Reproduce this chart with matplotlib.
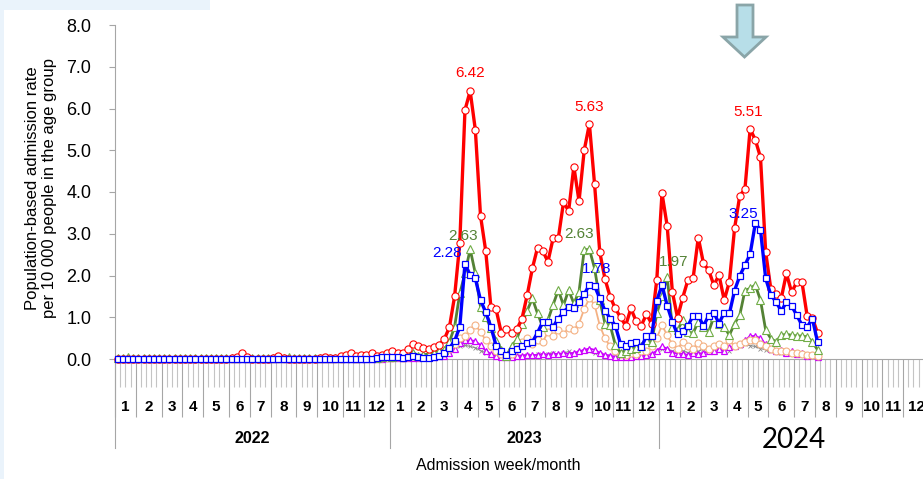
import numpy as np
import matplotlib
matplotlib.use('Agg')
import matplotlib.pyplot as plt
from matplotlib.patches import Polygon, Rectangle
from matplotlib.transforms import blended_transform_factory

plt.rcParams['font.family'] = ['Liberation Sans', 'DejaVu Sans']

# ─── Data: weekly admission rate per 10 000, from 2022 week 1 ────────────────

years = ['2022', '2023', '2024']
weeks_per_month = {
    '2022': [4, 5, 4, 4, 5, 4, 4, 5, 4, 5, 4, 5],
    '2023': [4, 4, 5, 4, 4, 5, 4, 4, 5, 4, 4, 5],
    '2024': [4, 4, 5, 4, 4, 5, 4, 4, 5, 4, 4, 5],
}
month_labels = [str(m) for m in range(1, 13)]

red = [
    # 2022
    0.01, 0.01, 0.01, 0.01, 0.01, 0.01, 0.01, 0.01, 0.01, 0.01,
    0.01, 0.01, 0.01, 0.01, 0.01, 0.01, 0.01, 0.01, 0.01, 0.01,
    0.01, 0.01, 0.02, 0.05, 0.14, 0.04, 0.01, 0.01, 0.01, 0.01,
    0.02, 0.06, 0.02, 0.01, 0.01, 0.01, 0.01, 0.01, 0.01, 0.02,
    0.05, 0.03, 0.03, 0.06, 0.10, 0.14, 0.08, 0.10, 0.10, 0.14,
    0.08, 0.10, 0.15,
    # 2023
    0.20, 0.15, 0.14, 0.23, 0.35, 0.31, 0.26, 0.23, 0.28, 0.34,
    0.47, 0.76, 1.50, 2.77, 5.96, 6.42, 5.49, 3.43, 2.59, 1.25,
    1.19, 0.63, 0.73, 0.63, 0.71, 0.97, 1.53, 2.17, 2.67, 2.59,
    2.33, 2.89, 2.89, 3.75, 3.55, 4.61, 3.78, 5.00, 5.63, 4.18,
    2.56, 1.92, 1.49, 1.21, 1.00, 0.80, 1.21, 0.91, 0.80, 1.07,
    0.85, 1.90,
    # 2024
    3.97, 3.19, 1.61, 0.99, 1.47, 1.89, 1.93, 2.91, 2.29, 2.13,
    1.77, 2.01, 1.41, 1.85, 3.13, 3.91, 4.07, 5.51, 5.25, 4.83,
    2.56, 1.67, 1.55, 1.45, 2.05, 1.60, 1.84, 1.84, 1.03, 0.99,
    0.62,
]

blue = [
    0.01, 0.01, 0.01, 0.01, 0.01, 0.01, 0.01, 0.01, 0.01, 0.01,
    0.01, 0.01, 0.01, 0.01, 0.01, 0.01, 0.01, 0.01, 0.01, 0.01,
    0.01, 0.01, 0.01, 0.01, 0.01, 0.01, 0.01, 0.01, 0.01, 0.01,
    0.01, 0.01, 0.01, 0.01, 0.01, 0.01, 0.01, 0.01, 0.01, 0.01,
    0.01, 0.01, 0.01, 0.01, 0.01, 0.01, 0.01, 0.01, 0.01, 0.01,
    0.02, 0.04, 0.04,
    0.05, 0.05, 0.03, 0.05, 0.06, 0.04, 0.03, 0.03, 0.04, 0.07,
    0.14, 0.26, 0.43, 0.77, 2.28, 2.01, 1.93, 1.41, 1.12, 0.77,
    0.32, 0.19, 0.10, 0.18, 0.23, 0.30, 0.38, 0.41, 0.63, 0.89,
    0.88, 0.77, 0.97, 1.12, 1.25, 1.21, 1.37, 1.55, 1.78, 1.75,
    1.45, 1.16, 0.97, 0.80, 0.36, 0.32, 0.38, 0.41, 0.28, 0.55,
    0.55, 1.40,
    1.77, 1.28, 0.89, 0.59, 0.68, 0.79, 1.04, 1.04, 0.79, 1.04,
    1.11, 0.85, 1.11, 1.09, 1.64, 1.99, 2.25, 2.51, 3.25, 3.09,
    1.93, 1.53, 1.37, 1.15, 1.36, 1.27, 1.05, 0.81, 0.76, 0.97,
    0.41,
]

green = [
    0.02, 0.02, 0.05, 0.02, 0.02, 0.02, 0.02, 0.02, 0.02, 0.02,
    0.02, 0.02, 0.02, 0.02, 0.02, 0.02, 0.02, 0.02, 0.02, 0.02,
    0.02, 0.02, 0.02, 0.02, 0.03, 0.02, 0.02, 0.02, 0.02, 0.02,
    0.02, 0.02, 0.02, 0.05, 0.02, 0.02, 0.02, 0.02, 0.02, 0.02,
    0.02, 0.02, 0.02, 0.02, 0.03, 0.03, 0.02, 0.03, 0.03, 0.04,
    0.03, 0.05, 0.08,
    0.05, 0.10, 0.06, 0.10, 0.15, 0.08, 0.10, 0.12, 0.15, 0.18,
    0.22, 0.41, 0.77, 1.57, 2.05, 2.63, 2.05, 1.25, 1.01, 0.74,
    0.44, 0.22, 0.08, 0.30, 0.47, 0.85, 1.16, 1.45, 1.09, 0.77,
    0.93, 1.30, 1.65, 1.29, 1.65, 1.33, 1.61, 2.61, 2.63, 2.17,
    1.41, 0.85, 0.81, 0.34, 0.15, 0.20, 0.25, 0.26, 0.30, 0.45,
    0.40, 1.09,
    1.50, 1.97, 0.76, 0.69, 0.93, 0.65, 0.62, 0.89, 0.77, 0.65,
    1.01, 0.85, 0.77, 0.57, 0.85, 1.05, 1.64, 1.69, 1.77, 1.41,
    0.69, 0.49, 0.41, 0.57, 0.59, 0.57, 0.55, 0.55, 0.53, 0.41,
    0.22,
]

peach = [
    0.01, 0.01, 0.01, 0.01, 0.01, 0.01, 0.01, 0.01, 0.01, 0.01,
    0.01, 0.01, 0.01, 0.01, 0.01, 0.01, 0.01, 0.01, 0.01, 0.01,
    0.01, 0.01, 0.01, 0.01, 0.02, 0.01, 0.01, 0.01, 0.01, 0.01,
    0.01, 0.01, 0.01, 0.01, 0.01, 0.01, 0.01, 0.01, 0.01, 0.01,
    0.01, 0.01, 0.01, 0.01, 0.02, 0.02, 0.01, 0.02, 0.02, 0.02,
    0.02, 0.03, 0.03,
    0.03, 0.04, 0.03, 0.05, 0.06, 0.05, 0.05, 0.06, 0.08, 0.10,
    0.15, 0.25, 0.35, 0.50, 0.55, 0.70, 0.81, 0.65, 0.45, 0.30,
    0.20, 0.12, 0.08, 0.12, 0.25, 0.40, 0.50, 0.35, 0.45, 0.40,
    0.65, 0.55, 0.70, 0.60, 0.75, 0.70, 0.85, 1.20, 1.45, 1.30,
    0.80, 0.50, 0.30, 0.20, 0.12, 0.10, 0.15, 0.12, 0.18, 0.20,
    0.30, 0.50,
    0.81, 0.57, 0.35, 0.25, 0.41, 0.30, 0.25, 0.39, 0.30, 0.25,
    0.30, 0.35, 0.30, 0.45, 0.30, 0.35, 0.40, 0.45, 0.45, 0.37,
    0.30, 0.25, 0.20, 0.18, 0.20, 0.15, 0.15, 0.12, 0.10, 0.10,
    0.08,
]

magenta = [
    0.00, 0.00, 0.00, 0.00, 0.00, 0.00, 0.00, 0.00, 0.00, 0.00,
    0.00, 0.00, 0.00, 0.00, 0.00, 0.00, 0.00, 0.00, 0.00, 0.00,
    0.00, 0.00, 0.00, 0.00, 0.01, 0.00, 0.00, 0.00, 0.00, 0.00,
    0.00, 0.00, 0.00, 0.00, 0.00, 0.00, 0.00, 0.00, 0.00, 0.00,
    0.00, 0.00, 0.00, 0.00, 0.01, 0.01, 0.00, 0.01, 0.01, 0.01,
    0.01, 0.01, 0.02,
    0.02, 0.02, 0.03, 0.02, 0.03, 0.03, 0.04, 0.04, 0.05, 0.06,
    0.08, 0.15, 0.25, 0.38, 0.45, 0.45, 0.43, 0.33, 0.20, 0.12,
    0.07, 0.05, 0.04, 0.05, 0.06, 0.08, 0.10, 0.09, 0.10, 0.12,
    0.10, 0.12, 0.12, 0.14, 0.12, 0.15, 0.18, 0.22, 0.25, 0.22,
    0.15, 0.10, 0.08, 0.05, 0.04, 0.05, 0.05, 0.06, 0.07, 0.10,
    0.12, 0.20,
    0.30, 0.25, 0.15, 0.13, 0.12, 0.10, 0.14, 0.12, 0.15, 0.18,
    0.20, 0.25, 0.20, 0.28, 0.30, 0.35, 0.45, 0.55, 0.55, 0.50,
    0.35, 0.25, 0.20, 0.22, 0.15, 0.18, 0.12, 0.15, 0.08, 0.10,
    0.05,
]

gray = [
    0.00, 0.00, 0.00, 0.00, 0.00, 0.00, 0.00, 0.00, 0.00, 0.00,
    0.00, 0.00, 0.00, 0.00, 0.00, 0.00, 0.00, 0.00, 0.00, 0.00,
    0.00, 0.00, 0.00, 0.00, 0.00, 0.00, 0.00, 0.00, 0.00, 0.00,
    0.00, 0.00, 0.00, 0.00, 0.00, 0.00, 0.00, 0.00, 0.00, 0.00,
    0.00, 0.00, 0.00, 0.00, 0.00, 0.01, 0.00, 0.01, 0.00, 0.01,
    0.01, 0.01, 0.01,
    0.01, 0.02, 0.02, 0.03, 0.05, 0.04, 0.06, 0.05, 0.08, 0.10,
    0.12, 0.18, 0.25, 0.30, 0.33, 0.30, 0.27, 0.20, 0.15, 0.10,
    0.07, 0.05, 0.05, 0.06, 0.08, 0.07, 0.10, 0.08, 0.12, 0.10,
    0.12, 0.15, 0.10, 0.14, 0.18, 0.12, 0.16, 0.20, 0.18, 0.15,
    0.12, 0.08, 0.06, 0.05, 0.04, 0.06, 0.05, 0.08, 0.07, 0.10,
    0.12, 0.18,
    0.25, 0.22, 0.18, 0.15, 0.20, 0.15, 0.22, 0.18, 0.25, 0.20,
    0.28, 0.22, 0.25, 0.20, 0.28, 0.30, 0.35, 0.32, 0.30, 0.25,
    0.22, 0.18, 0.20, 0.15, 0.18, 0.12, 0.15, 0.10, 0.12, 0.08,
    0.06,
]

# (series, week index, text colour, offset in pixels)
PEAK_LABELS = [
    ('red', 68, '#FF0000', (0, 18)),
    ('red', 91, '#FF0000', (0, 17)),
    ('red', 122, '#FF0000', (-2, 17)),
    ('green', 68, '#548235', (-7, 13)),
    ('green', 91, '#548235', (-10, 15)),
    ('green', 106, '#548235', (6, 15)),
    ('blue', 67, '#0000FF', (-18, 11)),
    ('blue', 91, '#0000FF', (7, 16)),
    ('blue', 123, '#0000FF', (-12, 9)),
]

# ─── Figure ──────────────────────────────────────────────────────────────────

W, H = 923, 479
fig = plt.figure(figsize=(W / 100, H / 100), dpi=100, facecolor='white')

# light frame pieces along the left and top-left edge
fig.patches.append(Rectangle((0, 1 - 10 / H), 210 / W, 10 / H, transform=fig.transFigure,
                             facecolor='#EAF3FB', edgecolor='none'))
fig.patches.append(Rectangle((0, 0), 4 / W, 1, transform=fig.transFigure,
                             facecolor='#EAF3FB', edgecolor='none'))

ax = fig.add_axes([115 / W, 1 - 359 / H, 814 / W, 334 / H])
ax.set_facecolor('none')

n_total = sum(sum(weeks_per_month[y]) for y in years)
ax.set_xlim(0, n_total)
ax.set_ylim(0, 8)

STYLE = {
    'gray':    dict(color='#8C8C8C', lw=0.8, marker='x', ms=3.5, mew=0.6, mfc='none', mec='#8C8C8C', z=2),
    'magenta': dict(color='#CC00FF', lw=1.3, marker='^', ms=4.5, mew=0.9, mfc='white', mec='#CC00FF', z=3),
    'peach':   dict(color='#F4B183', lw=1.3, marker='o', ms=5.0, mew=0.8, mfc='white', mec='#F4B183', z=4),
    'green':   dict(color='#548235', lw=2.0, marker='^', ms=5.5, mew=0.8, mfc='white', mec='#70AD47', z=5),
    'red':     dict(color='#FF0000', lw=2.4, marker='o', ms=5.2, mew=0.8, mfc='white', mec='#FF0000', z=6),
    'blue':    dict(color='#0000FF', lw=2.4, marker='s', ms=4.6, mew=0.9, mfc='white', mec='#0000FF', z=7),
}
SERIES = {'gray': gray, 'magenta': magenta, 'peach': peach,
          'green': green, 'red': red, 'blue': blue}

for name in ['gray', 'magenta', 'peach', 'green', 'red', 'blue']:
    vals = np.array(SERIES[name])
    s = STYLE[name]
    x = np.arange(len(vals)) + 0.5
    ax.plot(x, vals, '-', color=s['color'], lw=s['lw'], marker=s['marker'],
            ms=s['ms'], mew=s['mew'], mfc=s['mfc'], mec=s['mec'],
            zorder=s['z'], clip_on=False)

for name, idx, col, (dx, dy) in PEAK_LABELS:
    v = SERIES[name][idx]
    ax.annotate(f'{v:.2f}', xy=(idx + 0.5, v), xytext=(dx, dy), textcoords='offset pixels',
                ha='center', va='center', color=col, fontsize=11, zorder=10)

# ─── Axes styling ────────────────────────────────────────────────────────────

axis_grey = '#A6A6A6'
for side in ['top', 'right']:
    ax.spines[side].set_visible(False)
ax.spines['left'].set_color(axis_grey)
ax.spines['bottom'].set_color(axis_grey)

ax.set_yticks(range(9))
ax.set_yticklabels([f'{v:.1f}' for v in range(9)], fontsize=13)
ax.tick_params(axis='y', length=4, color=axis_grey, pad=13)

month_counts = [c for y in years for c in weeks_per_month[y]]
bounds = np.concatenate([[0], np.cumsum(month_counts)])
ax.set_xticks(bounds)
ax.set_xticklabels([])
ax.set_xticks(np.arange(0, n_total + 1), minor=True)
ax.tick_params(axis='x', which='major', length=42, width=0.8, color=axis_grey)
ax.tick_params(axis='x', which='minor', length=20, width=0.8, color='#C4C4C4')

trans = blended_transform_factory(ax.transData, ax.transAxes)
for k in range(len(month_counts)):
    ax.text((bounds[k] + bounds[k + 1]) / 2, -0.144, month_labels[k % 12], transform=trans,
            ha='center', va='center', fontsize=11, fontweight='bold')

year_start = 0
for y in years:
    n = sum(weeks_per_month[y])
    ax.plot([year_start, year_start], [0, -0.265], transform=trans, color=axis_grey,
            lw=0.8, clip_on=False)
    cx = year_start + n / 2
    if y == '2024':
        ax.text(cx, -0.242, y, transform=trans, ha='center', va='center',
                fontsize=20, family=['Lato', 'DejaVu Sans'])
    else:
        ax.text(cx, -0.237, y, transform=trans, ha='center', va='center',
                fontsize=11.5, fontweight='bold')
    year_start += n

fig.text(41 / W, 1 - 188 / H,
         'Population-based admission rate\nper 10 000 people in the age group',
         rotation=90, ha='center', va='center', fontsize=12, linespacing=1.2)
fig.text(498 / W, 1 - 466 / H, 'Admission week/month', ha='center', va='center', fontsize=11.5)

# down arrow marking the current period
arrow_px = [(737, 5), (753, 5), (753, 37), (766, 37), (744.5, 57), (723, 37), (737, 37)]
fig.patches.append(Polygon([(px / W, 1 - py / H) for px, py in arrow_px], closed=True,
                           transform=fig.transFigure, facecolor='#B7DEE8',
                           edgecolor='#8AA5A8', lw=2))

fig.savefig('out.png', dpi=100)
